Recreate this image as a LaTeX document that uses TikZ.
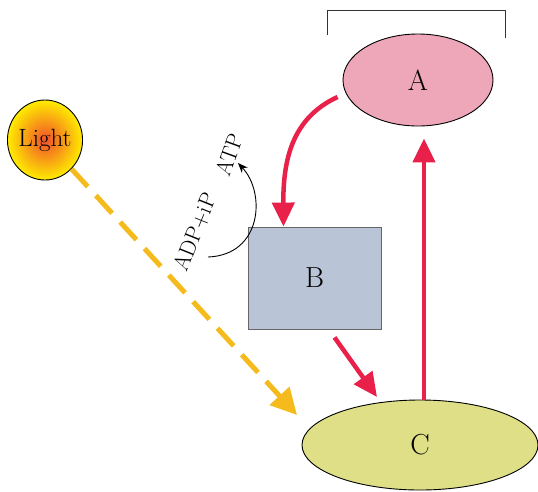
\documentclass[tikz,border=0pt]{standalone}
\usepackage{fontspec}
\usetikzlibrary{shapes.geometric,arrows.meta,positioning}

\definecolor{pinkA}{HTML}{EDA7B8}
\definecolor{blueB}{HTML}{B9C4D6}
\definecolor{greenC}{HTML}{DEDF86}
\definecolor{redArr}{HTML}{E8204A}
\definecolor{yellowArr}{HTML}{F5BB1C}
\definecolor{sunCore}{HTML}{F0502A}
\definecolor{sunRim}{HTML}{FFEC00}

\begin{document}
\begin{tikzpicture}[
    x=1pt, y=-1pt, % pixel-like units, y downwards
    % stage/.style={ellipse,draw,minimum width=2cm},
    stageA/.style={ellipse,draw,line width=0.9pt,fill=pinkA,minimum width=150pt,minimum height=92pt,inner sep=0pt,font=\fontsize{29}{31}\selectfont},
    stageB/.style={rectangle,draw=black!60,line width=0.9pt,fill=blueB,minimum width=133pt,minimum height=102pt,font=\fontsize{29}{31}\selectfont},
    stageC/.style={ellipse,draw,line width=0.9pt,fill=greenC,minimum width=236pt,minimum height=90pt,inner sep=0pt,font=\fontsize{29}{31}\selectfont},
    sun/.style={ellipse,draw,line width=0.9pt,minimum width=75pt,minimum height=80pt,inner sep=0pt,shading=radial,inner color=sunCore,outer color=sunRim,font=\fontsize{25}{27}\selectfont},
    tag/.style={inner sep=0pt,font=\fontsize{22.5}{24}\selectfont},
    redflow/.style={draw=redArr,line width=4.5pt,-{Triangle[length=24pt,width=22pt]}},
    lightray/.style={draw=yellowArr,line width=5pt,dash pattern=on 24pt off 12pt,-{Triangle[length=26pt,width=26pt]}},
    energy/.style={draw,line width=0.9pt,-{Stealth[length=10pt,width=8pt]}}
]
    \useasboundingbox (0,0) rectangle (538,491);

    % Define nodes
    \node[stageA] (ellA) at (418,80) {A};
    \node[stageB] (boxB) at (314.5,278) {B};
    \node[stageC] (ellC) at (420,445) {C};
    \node[sun] (light) at (45,140) {Light};
    \node[tag,rotate=68] (adp) at (195,232) {ADP+iP};
    \node[tag,rotate=70] (atp) at (229,155) {ATP};

    % End points of the free arrows
    \coordinate (rayTip) at (297,415);
    \coordinate (adpEnd) at (208,257);
    \coordinate (atpEnd) at (238,163);

    % Bracket over A
    \draw[line width=1pt,black!80] (327,35) |- (505,10) -- (505,38);

    % Arrows
    \draw[redflow] ([xshift=-5pt,yshift=-17pt]ellA.west) .. controls (292,118) and (283,160) .. ([xshift=-31pt]boxB.north);
    \draw[redflow] ([xshift=20pt,yshift=-8pt]boxB.south) -- ([xshift=-43pt,yshift=48pt]ellC.center);
    \draw[redflow] ([xshift=4pt]ellC.north) -- ([xshift=6pt,yshift=-12pt]ellA.south);
    \draw[lightray] (light) -- (rayTip);
    \draw[energy] (adpEnd) .. controls (262,255) and (266,193) .. (atpEnd);
\end{tikzpicture}
\end{document}
